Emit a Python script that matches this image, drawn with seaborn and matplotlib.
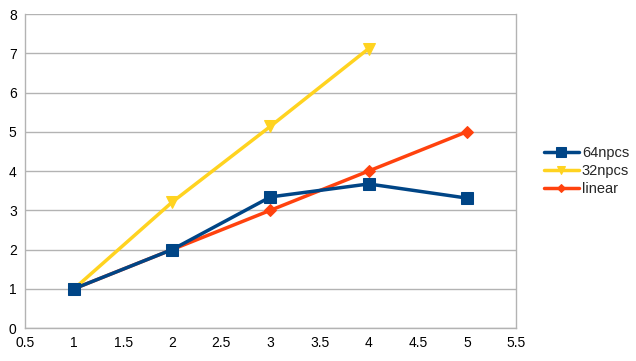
import pandas as pd
import numpy as np
import seaborn as sns
import matplotlib.pyplot as plt

# values
x_vals = [1, 2, 3, 4, 5]
npcs64 = [1.0, 2.0, 3.34, 3.67, 3.31]
x_32 = [1, 2, 3, 4]
npcs32 = [1.0, 3.21, 5.14, 7.12]
linear = [1, 2, 3, 4, 5]

series = [
    ("64npcs", x_vals, npcs64, "#004586", "s", 9, 5),
    ("32npcs", x_32, npcs32, "#ffd320", "v", 8, 4),
    ("linear", x_vals, linear, "#ff420e", "D", 6, 3),
]

sns.set_style("white")
plt.rcParams['font.family'] = ['Liberation Sans', 'DejaVu Sans']

fig = plt.figure(figsize=(6.36, 3.61), dpi=100)
ax = fig.add_axes([0.0393, 0.0914, 0.7720, 0.8698])

for name, xs, ys, col, mk, ms, z in series:
    df = pd.DataFrame({'x': xs, 'y': ys})
    sns.lineplot(data=df, x='x', y='y', ax=ax, color=col, marker=mk,
                 markersize=ms, markeredgecolor=col, linewidth=2.5,
                 label=name, zorder=z)

ax.set_xlim(0.5, 5.5)
ax.set_ylim(0, 8)
ax.set_xticks(np.arange(0.5, 5.51, 0.5))
ax.set_xticklabels(['0.5', '1', '1.5', '2', '2.5', '3', '3.5', '4', '4.5', '5', '5.5'])
ax.set_yticks(range(0, 9))
ax.set(xlabel='', ylabel='')
ax.grid(axis='y', color='#b3b3b3', linewidth=1)
ax.grid(axis='x', visible=False)
for s in ax.spines.values():
    s.set_color('#b3b3b3')
    s.set_linewidth(1)
ax.spines['top'].set_visible(False)
ax.tick_params(axis='both', which='both', direction='out', length=4, width=1,
               color='#b3b3b3', labelsize=10, labelcolor='black', pad=2)

leg = ax.legend(loc='center left', bbox_to_anchor=(1.03, 0.5), frameon=False,
                fontsize=10.5, handlelength=2.4, handletextpad=0.2,
                labelspacing=0.3, markerscale=0.75)

fig.savefig('out.png', dpi=100)
